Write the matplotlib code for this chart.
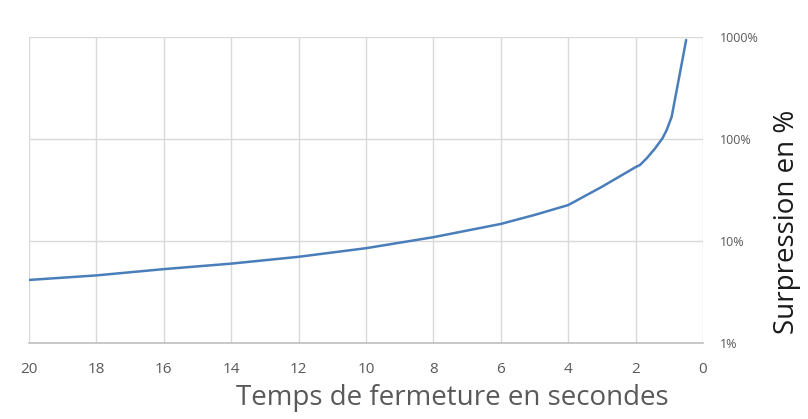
import numpy as np
import matplotlib.pyplot as plt
from matplotlib.ticker import FixedLocator, FixedFormatter, NullLocator

# temps de fermeture (s) et surpression (%)
temps = [20, 18, 16, 14, 12, 10, 8, 6, 5, 4, 3, 2, 1.87, 1.67, 1.42, 1.2, 1.08, 0.93, 0.78, 0.63, 0.5]
surpression = [4.15, 4.6, 5.3, 6.0, 7.0, 8.5, 10.9, 14.7, 18.0, 22.5, 34, 53, 55.6, 64.7, 81, 102, 122, 165, 302, 552, 935]

x_ticks = [20, 18, 16, 14, 12, 10, 8, 6, 4, 2, 0]
y_ticks = [1, 10, 100, 1000]
y_labels = ['1%', '10%', '100%', '1000%']

plt.rcParams['font.family'] = ['Open Sans', 'DejaVu Sans']

fig = plt.figure(figsize=(8.08, 4.19), dpi=100)
ax = fig.add_axes([29 / 808, 1 - 343 / 419, (703 - 29) / 808, (343 - 37) / 419])

ax.plot(temps, surpression, color='#4a7ebb', linewidth=1.8, solid_capstyle='round')

ax.set_yscale('log')
ax.set_xlim(20, 0)
ax.set_ylim(1, 1000)

ax.xaxis.set_major_locator(FixedLocator(x_ticks))
ax.yaxis.set_major_locator(FixedLocator(y_ticks))
ax.yaxis.set_major_formatter(FixedFormatter(y_labels))
ax.yaxis.set_minor_locator(NullLocator())

ax.grid(True, color='#d9d9d9', linewidth=1)
ax.set_axisbelow(True)
for side in ['left', 'right', 'top']:
    ax.spines[side].set_visible(False)
ax.spines['bottom'].set_color('#bfbfbf')
ax.spines['bottom'].set_linewidth(1.2)

ax.yaxis.tick_right()
ax.yaxis.set_label_position('right')
ax.tick_params(axis='both', length=0, colors='#595959')
ax.tick_params(axis='x', labelsize=11, pad=14)
ax.tick_params(axis='y', labelsize=9, pad=12)

ax.set_xlabel('Temps de fermeture en secondes', fontsize=20, color='#595959')
ax.xaxis.set_label_coords(0.628, -0.135)
ax.set_ylabel('Surpression en %', fontsize=20, color='#1a1a1a')
ax.yaxis.set_label_coords(1.104, 0.395)

fig.savefig('out.png', dpi=100)
